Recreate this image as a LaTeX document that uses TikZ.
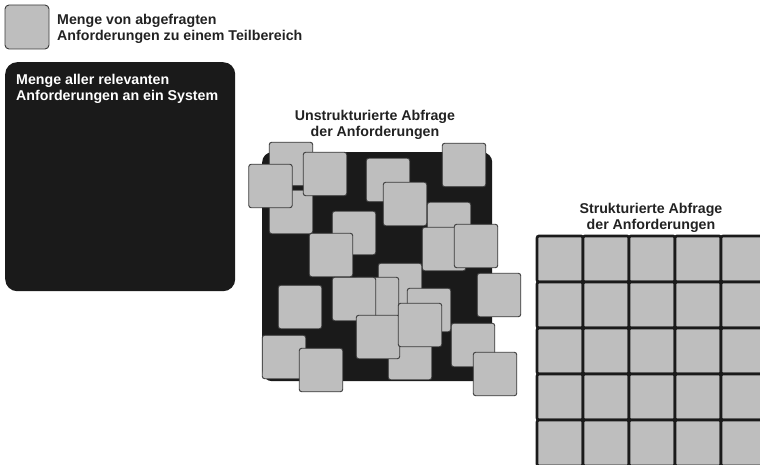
\documentclass[tikz,border=0pt]{standalone}
\usepackage{fontspec}
\setmainfont{Liberation Sans}
\definecolor{boxblack}{HTML}{1A1A1A}
\definecolor{sqgray}{HTML}{BEBEBE}
\definecolor{sqedge}{HTML}{3A3A3A}
\definecolor{txt}{HTML}{222222}
\begin{document}
\begin{tikzpicture}[x=1pt,y=-1pt,
  sq/.style={rectangle, fill=sqgray, draw=sqedge, line width=0.9pt, rounded corners=2.5pt, minimum size=43.5pt, inner sep=0pt},
  cell/.style={rectangle, fill=sqgray, draw=boxblack, line width=2.7pt, rounded corners=2pt, minimum size=46pt, inner sep=0pt},
  field/.style={rectangle, fill=boxblack, draw=none, rounded corners=#1, inner sep=0pt, anchor=north west},
  lbl/.style={font=\bfseries\fontsize{14.2}{16}\selectfont, inner sep=0pt, text=txt},
]
\useasboundingbox (0,0) rectangle (760,465);
\clip (0,0) rectangle (760,465);

% legend
\node[sq, minimum size=44pt, rounded corners=4pt] (leg) at (27,27) {};
\node[lbl, anchor=base west, align=left] (legtxt) at (57,41) {Menge von abgefragten\\Anforderungen zu einem Teilbereich};

% all requirements
\node[field=12pt, minimum width=230pt, minimum height=229pt] (all) at (5,62) {};
\node[lbl, text=white, anchor=base west, align=left] (alltxt) at (16,101) {Menge aller relevanten\\Anforderungen an ein System};

% unstructured
\node[lbl, anchor=base, align=center] (ut) at (375,136.5) {Unstrukturierte Abfrage\\der Anforderungen};
\node[field=10pt, minimum width=230pt, minimum height=229pt] (ubg) at (262,152) {};
\foreach \n/\x/\y in {a/291/164, b/291/212, c/270.5/186, d/325/174, e/388/180, f/405/204,
  g/464/165, h/449/224, i/444/249, j/476/246, k/354/233, l/331/255, m/400/285, n/300/307,
  o/377/299, p/354/299, q/429/310, r/410/358, s/378/337, t/420/325, u/499/295, v/473/345,
  w/495/374, x/284/357, y/321/370}
  \node[sq] (u\n) at (\x,\y) {};

% structured
\node[lbl, anchor=base, align=center] (st) at (651,229.5) {Strukturierte Abfrage\\der Anforderungen};
\foreach \i in {0,...,4}
  \foreach \j in {0,...,4}
    \node[cell] (g\i\j) at ({560+46*\i},{259+46*\j}) {};
\end{tikzpicture}
\end{document}
